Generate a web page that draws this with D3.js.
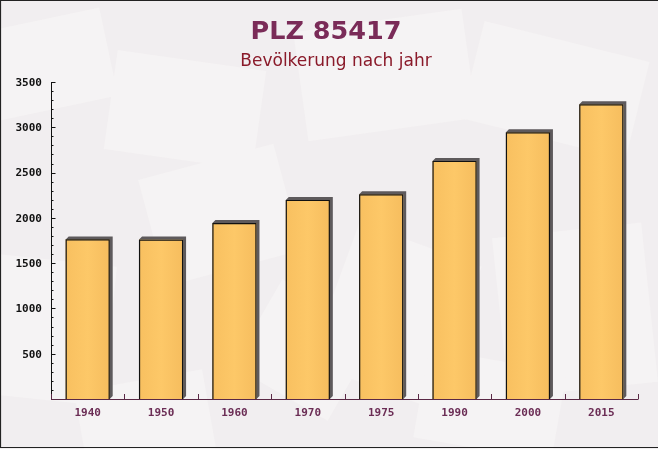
<!DOCTYPE html>
<html>
<head>
<meta charset="utf-8">
<script src="https://cdn.jsdelivr.net/npm/d3@7"></script>
<style>
  html, body { margin: 0; padding: 0; background: #f2eff1; }
  svg { display: block; }
</style>
</head>
<body>
<svg id="chart" width="658" height="449"></svg>
<script>
const categories = ["1940", "1950", "1960", "1970", "1975", "1990", "2000", "2015"];
const population = [1762, 1760, 1942, 2197, 2260, 2628, 2944, 3254];
const yTicks = [500, 1000, 1500, 2000, 2500, 3000, 3500];
const titleText = "PLZ 85417";
const subtitleText = "Bevölkerung nach jahr";

const W = 658, H = 449;
const svg = d3.select("#chart");

// background
svg.append("rect").attr("x", 0).attr("y", 0).attr("width", W).attr("height", H).attr("fill", "#f1eef0");
const deco = svg.append("g").attr("fill", "#f7f5f5").attr("opacity", 0.7);
const envs = [
  [-20, 20, 130, 90, -12], [110, 60, 150, 100, 8], [300, 20, 170, 110, -8], [470, 40, 170, 100, 14],
  [-10, 260, 120, 140, 6], [150, 160, 140, 110, -15], [330, 240, 130, 150, 20], [500, 230, 150, 160, -6],
  [80, 380, 130, 80, -10], [420, 360, 140, 90, 10], [250, 300, 110, 100, 30]
];
envs.forEach(e => {
  deco.append("rect").attr("x", e[0]).attr("y", e[1]).attr("width", e[2]).attr("height", e[3])
    .attr("transform", `rotate(${e[4]},${e[0] + e[2] / 2},${e[1] + e[3] / 2})`);
});

// titles
svg.append("text").attr("x", 326).attr("y", 38.5).attr("text-anchor", "middle")
  .attr("font-family", "DejaVu Sans, Verdana, sans-serif").attr("font-weight", "bold")
  .attr("font-size", 25.5).attr("fill", "#7a2b58").text(titleText);
svg.append("text").attr("x", 336).attr("y", 66).attr("text-anchor", "middle")
  .attr("font-family", "DejaVu Sans, Verdana, sans-serif")
  .attr("font-size", 17).attr("fill", "#8a1a2a").text(subtitleText);

// scales
const x = d3.scaleBand().domain(categories).range([51, 638]).paddingInner(0.4).paddingOuter(0.2);
const y = d3.scaleLinear().domain([0, 3500]).range([399, 82]);

// bars with 3D shadow
const d = 3;
const bars = svg.append("g");
categories.forEach((c, i) => {
  const bx = x(c), bw = x.bandwidth(), by = y(population[i]), base = y(0);
  bars.append("path")
    .attr("d", `M${bx},${by} L${bx + d},${by - d} L${bx + bw + d},${by - d} L${bx + bw + d},${base - d} L${bx + bw},${base} L${bx + bw},${by} Z`)
    .attr("fill", "#5e5a5c");
});
const grad = svg.append("defs").append("linearGradient").attr("id", "bg").attr("x1", 0).attr("x2", 1).attr("y1", 0).attr("y2", 0);
grad.append("stop").attr("offset", "0%").attr("stop-color", "#f8c060");
grad.append("stop").attr("offset", "50%").attr("stop-color", "#fdc868");
grad.append("stop").attr("offset", "100%").attr("stop-color", "#f6bd5e");
categories.forEach((c, i) => {
  const bx = x(c), bw = x.bandwidth(), by = y(population[i]), base = y(0);
  bars.append("rect").attr("x", bx).attr("y", by).attr("width", bw).attr("height", base - by)
    .attr("fill", "url(#bg)");
  bars.append("path")
    .attr("d", `M${bx + 0.5},${base} L${bx + 0.5},${by + 0.5} L${bx + bw - 0.5},${by + 0.5} L${bx + bw - 0.5},${base}`)
    .attr("fill", "none").attr("stroke", "#111").attr("stroke-width", 1.2);
});

// y axis
const yMinor = d3.range(0, 3501, 100);
const yAx = svg.append("g");
yAx.append("line").attr("x1", 51.5).attr("x2", 51.5).attr("y1", y(3500)).attr("y2", y(0)).attr("stroke", "#111");
yMinor.forEach(v => {
  const major = v % 500 === 0;
  yAx.append("line").attr("x1", 51).attr("x2", major ? 55.5 : 53.5)
    .attr("y1", Math.round(y(v)) + 0.5).attr("y2", Math.round(y(v)) + 0.5).attr("stroke", "#111");
});
yTicks.forEach(v => {
  yAx.append("text").attr("x", 42).attr("y", y(v)).attr("dy", "0.35em").attr("text-anchor", "end")
    .attr("font-family", "DejaVu Sans Mono, monospace").attr("font-weight", "bold").attr("font-size", 11)
    .attr("fill", "#111").text(v);
});

// x axis
const xAx = svg.append("g");
xAx.append("line").attr("x1", 51).attr("x2", 638.5).attr("y1", 399.5).attr("y2", 399.5).attr("stroke", "#5a2845");
const step = x.step();
d3.range(0, categories.length + 1).forEach(k => {
  const tx = Math.round(51 + k * step) + 0.5;
  xAx.append("line").attr("x1", tx).attr("x2", tx).attr("y1", 399).attr("y2", 394).attr("stroke", "#5a2845");
});
categories.forEach(c => {
  xAx.append("text").attr("x", x(c) + x.bandwidth() / 2).attr("y", 412).attr("dy", "0.35em")
    .attr("text-anchor", "middle").attr("font-family", "DejaVu Sans Mono, monospace")
    .attr("font-weight", "bold").attr("font-size", 11).attr("fill", "#6b2d55").text(c);
});

// border
svg.append("path").attr("d", `M${W},0.5 L0.5,0.5 L0.5,447.5 L${W},447.5`).attr("fill", "none").attr("stroke", "#222").attr("stroke-width", 1.2);
</script>
</body>
</html>
